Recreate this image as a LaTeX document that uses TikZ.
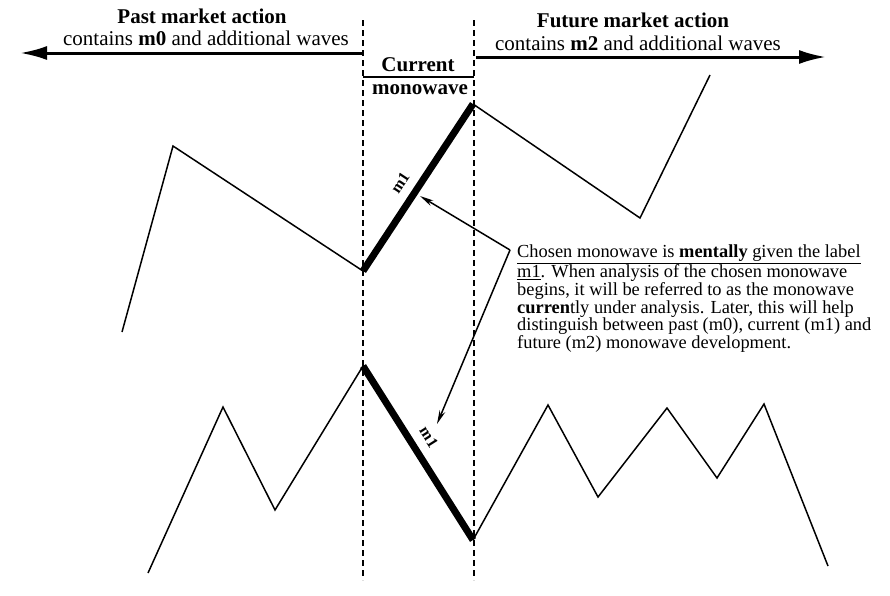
\documentclass[tikz,border=0pt]{standalone}
\usepackage{fontspec}
\setmainfont{Liberation Serif}
\usepackage{tikz}
\usetikzlibrary{arrows.meta}
\tikzset{
  head/.style   ={font=\fontsize{21}{23}\selectfont\bfseries, inner sep=0pt, anchor=base},
  sub/.style    ={font=\fontsize{21}{23}\selectfont, inner sep=0pt, anchor=base},
  note/.style   ={font=\fontsize{18.4}{17.6}\selectfont, align=left, inner sep=0pt, anchor=north west},
  mlabel/.style ={font=\fontsize{16}{18}\selectfont\bfseries, inner sep=0pt},
  wave/.style   ={line width=1.5pt, line join=miter},
  mono/.style   ={line width=7pt, line cap=butt},
  divider/.style={line width=1.5pt, dash pattern=on 6pt off 4pt},
  span/.style   ={line width=3pt, -{Latex[length=27pt,width=14pt]}},
  pointer/.style={line width=1.5pt, -{Stealth[length=14pt,width=6pt]}},
}
\begin{document}
\begin{tikzpicture}[x=1pt,y=-1pt]
  \useasboundingbox (0,0) rectangle (890,595);

  % headings
  \node[head] (past) at (202,23) {Past market action};
  \node[sub] (pastsub) at (206,45) {contains \textbf{m0} and additional waves};
  \node[head] (future) at (633,27) {Future market action};
  \node[sub] (futsub) at (638,50) {contains \textbf{m2} and additional waves};
  \node[head] (cur) at (418,71) {Current};
  \node[head] (curmono) at (420,94) {monowave};

  % dividers
  \coordinate (dl0) at (363,20);  \coordinate (dl1) at (363,580);
  \coordinate (dr0) at (474,20);  \coordinate (dr1) at (474,580);
  \draw[divider] (dl0) -- (dl1);
  \draw[divider] (dr0) -- (dr1);

  % time arrows
  \coordinate (pastA) at (363,53);  \coordinate (pastB) at (20,53);
  \coordinate (futA) at (476,57);   \coordinate (futB) at (826,57);
  \coordinate (curA) at (363,77);   \coordinate (curB) at (474,77);
  \draw[span] (pastA) -- (pastB);
  \draw[span] (futA) -- (futB);
  \draw[line width=1.5pt] (curA) -- (curB);

  % upper wave
  \coordinate (t0) at (122,332);
  \coordinate (t1) at (173,146);
  \coordinate (t2) at (363,271);
  \coordinate (t3) at (473,104);
  \coordinate (t4) at (640,218);
  \coordinate (t5) at (710,75);
  \draw[wave] (t0) -- (t1) -- (t2);
  \draw[wave] (t3) -- (t4) -- (t5);
  \draw[mono] (t2) -- (t3);

  % lower wave
  \coordinate (b0) at (148,573);
  \coordinate (b1) at (223,407);
  \coordinate (b2) at (275,510);
  \coordinate (b3) at (363,366);
  \coordinate (b4) at (473,540);
  \coordinate (b5) at (548,405);
  \coordinate (b6) at (598,497);
  \coordinate (b7) at (667,408);
  \coordinate (b8) at (717,478);
  \coordinate (b9) at (764,404);
  \coordinate (b10) at (828,566);
  \draw[wave] (b0) -- (b1) -- (b2) -- (b3);
  \draw[wave] (b4) -- (b5) -- (b6) -- (b7) -- (b8) -- (b9) -- (b10);
  \draw[mono] (b3) -- (b4);

  \node[mlabel, rotate=56.6] (mup) at (400,183) {m1};
  \node[mlabel, rotate=-57.7] (mdown) at (429,437) {m1};

  % explanation
  \node[note] (expl) at (517,245) {%
    \underline{Chosen monowave is \textbf{mentally} given the label}\\
    \underline{m1}.  When analysis of the chosen monowave\\
    begins, it will be referred to as the monowave\\
    \textbf{curren}tly under analysis.  Later, this will help\\
    distinguish between past (m0), current (m1) and\\
    future (m2) monowave development.};
  \coordinate (corner) at (510,250);
  \coordinate (hitup) at (420,196);
  \coordinate (hitdown) at (437,424);
  \draw[pointer] (corner) -- (hitup);
  \draw[pointer] (corner) -- (hitdown);
\end{tikzpicture}
\end{document}
